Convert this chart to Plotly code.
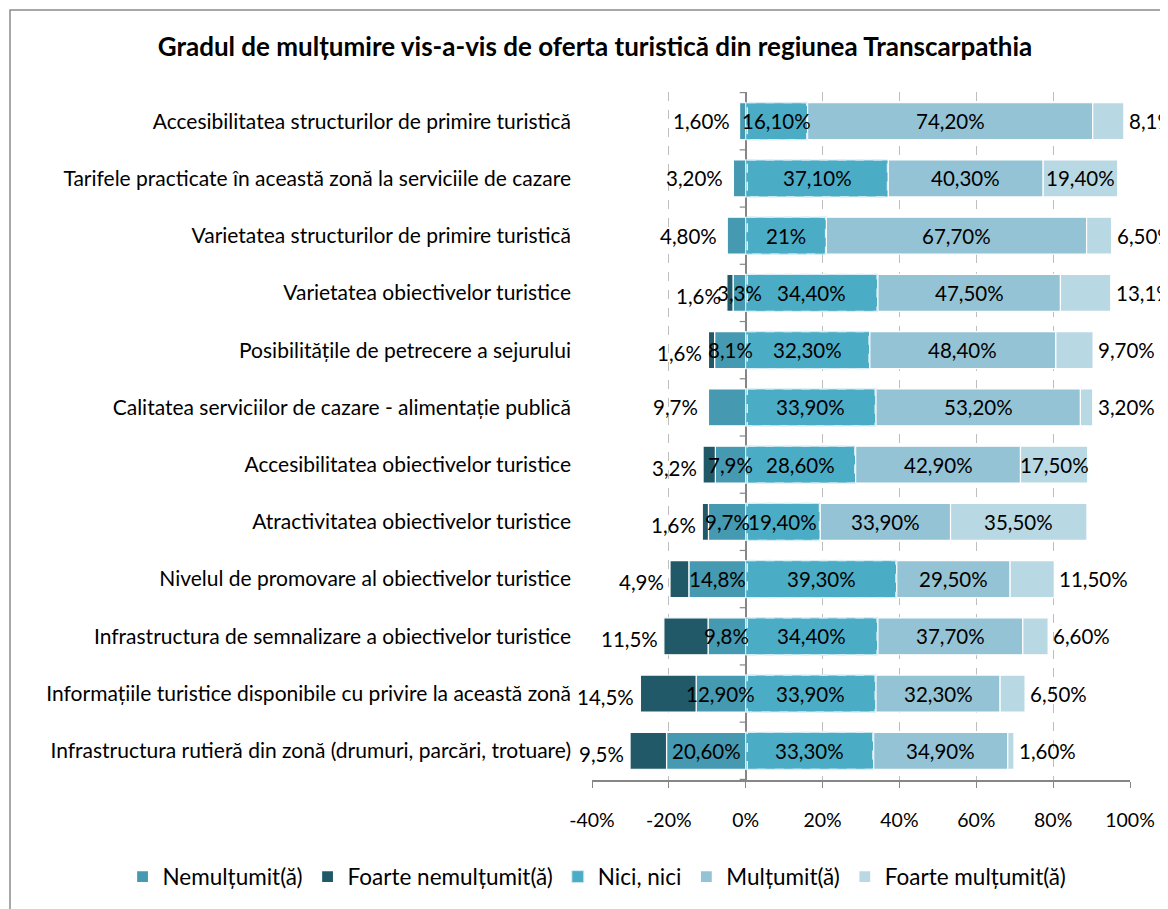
import plotly.graph_objects as go

categories = [
    "Accesibilitatea structurilor de primire turistică",
    "Tarifele practicate în această zonă la serviciile de cazare",
    "Varietatea structurilor de primire turistică",
    "Varietatea obiectivelor turistice",
    "Posibilitățile de petrecere a sejurului",
    "Calitatea serviciilor de cazare - alimentație publică",
    "Accesibilitatea obiectivelor turistice",
    "Atractivitatea obiectivelor turistice",
    "Nivelul de promovare al obiectivelor turistice",
    "Infrastructura de semnalizare a obiectivelor turistice",
    "Informațiile turistice disponibile cu privire la această zonă",
    "Infrastructura rutieră din zonă (drumuri, parcări, trotuare)",
]

nemultumit = [1.6, 3.2, 4.8, 3.3, 8.1, 9.7, 7.9, 9.7, 14.8, 9.8, 12.9, 20.6]
foarte_nemultumit = [0, 0, 0, 1.6, 1.6, 0, 3.2, 1.6, 4.9, 11.5, 14.5, 9.5]
nici_nici = [16.1, 37.1, 21.0, 34.4, 32.3, 33.9, 28.6, 19.4, 39.3, 34.4, 33.9, 33.3]
multumit = [74.2, 40.3, 67.7, 47.5, 48.4, 53.2, 42.9, 33.9, 29.5, 37.7, 32.3, 34.9]
foarte_multumit = [8.1, 19.4, 6.5, 13.1, 9.7, 3.2, 17.5, 35.5, 11.5, 6.6, 6.5, 1.6]

lbl_nem = ["1,60%", "3,20%", "4,80%", "3,3%", "8,1%", "9,7%", "7,9%", "9,7%", "14,8%", "9,8%", "12,90%", "20,60%"]
lbl_fn = ["", "", "", "1,6%", "1,6%", "", "3,2%", "1,6%", "4,9%", "11,5%", "14,5%", "9,5%"]
lbl_nici = ["16,10%", "37,10%", "21%", "34,40%", "32,30%", "33,90%", "28,60%", "19,40%", "39,30%", "34,40%", "33,90%", "33,30%"]
lbl_mult = ["74,20%", "40,30%", "67,70%", "47,50%", "48,40%", "53,20%", "42,90%", "33,90%", "29,50%", "37,70%", "32,30%", "34,90%"]
lbl_fm = ["8,1%", "19,40%", "6,50%", "13,1%", "9,70%", "3,20%", "17,50%", "35,50%", "11,50%", "6,60%", "6,50%", "1,60%"]

x_ticks = [-40, -20, 0, 20, 40, 60, 80, 100]
x_ticklabels = ["-40%", "-20%", "0%", "20%", "40%", "60%", "80%", "100%"]

FONT = "Lato"
C_NEM = "#4599B0"
C_FN = "#215968"
C_NICI = "#4BACC6"
C_MULT = "#93C3D4"
C_FM = "#B8D8E3"

fig = go.Figure()
seg_line = dict(color="white", width=1.2)
fig.add_trace(go.Bar(y=categories, x=[-v for v in nemultumit], orientation="h",
                     name="Nemulțumit(ă)", marker=dict(color=C_NEM, line=seg_line), hoverinfo="skip"))
fig.add_trace(go.Bar(y=categories, x=[-v for v in foarte_nemultumit], orientation="h",
                     name="Foarte nemulțumit(ă)", marker=dict(color=C_FN, line=seg_line), hoverinfo="skip"))
fig.add_trace(go.Bar(y=categories, x=nici_nici, orientation="h",
                     name="Nici, nici", marker=dict(color=C_NICI, line=dict(color="#D5ECF3", width=1)), hoverinfo="skip"))
fig.add_trace(go.Bar(y=categories, x=multumit, orientation="h",
                     name="Mulțumit(ă)", marker=dict(color=C_MULT, line=seg_line), hoverinfo="skip"))
fig.add_trace(go.Bar(y=categories, x=foarte_multumit, orientation="h",
                     name="Foarte mulțumit(ă)", marker=dict(color=C_FM, line=seg_line), hoverinfo="skip"))

LBL = dict(family=FONT, size=20.5, color="#000000")
annotations = []
shapes = []
half = 0.325
for i, cat in enumerate(categories):
    nem, fn, nici, mult, fm = nemultumit[i], foarte_nemultumit[i], nici_nici[i], multumit[i], foarte_multumit[i]
    # negative side
    if fn > 0:
        annotations.append(dict(x=-nem / 2, y=cat, text=lbl_nem[i], showarrow=False, font=LBL, xanchor="center"))
        annotations.append(dict(x=-(nem + fn), y=cat, text=lbl_fn[i], showarrow=False, font=LBL,
                                xanchor="right", xshift=-4, yshift=-3))
    else:
        annotations.append(dict(x=-nem, y=cat, text=lbl_nem[i], showarrow=False, font=LBL,
                                xanchor="right", xshift=-8))
    annotations.append(dict(x=nici / 2, y=cat, text=lbl_nici[i], showarrow=False, font=LBL, xanchor="center"))
    annotations.append(dict(x=nici + mult / 2, y=cat, text=lbl_mult[i], showarrow=False, font=LBL, xanchor="center"))
    if fm >= 15:
        annotations.append(dict(x=nici + mult + fm / 2, y=cat, text=lbl_fm[i], showarrow=False, font=LBL, xanchor="center"))
    else:
        annotations.append(dict(x=nici + mult + fm, y=cat, text=lbl_fm[i], showarrow=False, font=LBL,
                                xanchor="left", xshift=3))
    # dashed outline of the "Nici, nici" segment
    shapes.append(dict(type="rect", xref="x", yref="y", x0=0.4, x1=nici - 0.2, y0=i - half, y1=i + half,
                       line=dict(color="#DDF0F5", width=1.5, dash="dash"), layer="above"))

# small category tick marks on the 0% axis
for i in range(len(categories) + 1):
    shapes.append(dict(type="line", xref="x", yref="y", xsizemode="pixel", xanchor=0, x0=-6, x1=0,
                       y0=i - 0.5, y1=i - 0.5, line=dict(color="#868686", width=1.2)))

# outer chart border (left and top visible)
shapes.append(dict(type="rect", xref="paper", yref="paper", x0=-1.0818, x1=1.3, y0=-0.3, y1=1.1192,
                   line=dict(color="#8C8C8C", width=1.5), layer="below"))

fig.update_layout(
    width=1168, height=909,
    barmode="relative",
    bargap=0.355,
    paper_bgcolor="white", plot_bgcolor="white",
    margin=dict(l=584, r=46, t=84, b=137, autoexpand=False),
    title=dict(text="<b>Gradul de mulțumire vis-a-vis de oferta turistică din regiunea Transcarpathia</b>",
               x=0.5026, xanchor="center", y=0.957, yanchor="middle",
               font=dict(family=FONT, size=26, color="#000000")),
    font=dict(family=FONT, size=19, color="#000000"),
    legend=dict(orientation="h", xref="paper", yref="paper",
                x=-0.8726, xanchor="left", y=-0.141, yanchor="middle",
                font=dict(family=FONT, size=22.5), itemwidth=30, tracegroupgap=0,
                itemclick=False, itemdoubleclick=False),
    annotations=annotations,
    shapes=shapes,
    showlegend=True,
)
fig.update_xaxes(
    range=[-40, 100], tickvals=x_ticks, ticktext=x_ticklabels,
    showgrid=True, gridcolor="#BEBEBE", griddash="dash", gridwidth=1.3,
    zeroline=True, zerolinecolor="#868686", zerolinewidth=1.5,
    showline=True, linecolor="#868686", linewidth=1.5,
    ticks="outside", ticklen=6, tickcolor="#868686", ticklabelstandoff=16,
    tickfont=dict(family=FONT, size=19.5),
    fixedrange=True,
)
fig.update_yaxes(
    autorange="reversed", showgrid=False, zeroline=False, showline=False,
    ticks="", ticklabelstandoff=20,
    tickfont=dict(family=FONT, size=21),
    fixedrange=True,
)

fig.write_html("out.html")
